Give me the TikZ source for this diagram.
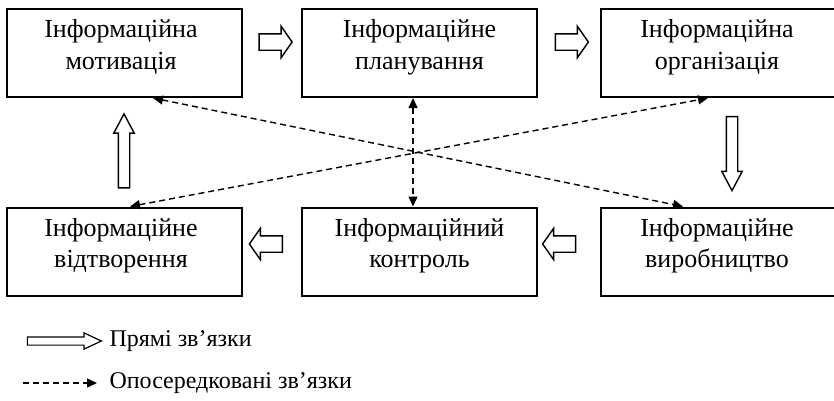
\documentclass[tikz,border=0pt]{standalone}
\usepackage{fontspec}
\setmainfont{Liberation Serif}
\usetikzlibrary{shapes,arrows.meta,positioning,calc}

\begin{document}
\begin{tikzpicture}[
    x=1pt, y=-1pt,
    font=\fontsize{26}{31.5}\selectfont,
    stage/.style={rectangle, draw, line width=2pt, minimum width=235pt, minimum height=88pt, inner sep=0pt},
    stagetext/.style={anchor=north, align=center, inner sep=0pt, yshift=-11.5pt},
    blockarrow/.style={single arrow, draw, line width=1.4pt, inner xsep=0pt, inner ysep=7.5pt,
        minimum height=33pt, single arrow head extend=7.5pt, single arrow tip angle=110, single arrow head indent=0pt},
    longarrow/.style={single arrow, draw, line width=1.4pt, inner xsep=0pt, inner ysep=5pt,
        minimum height=74pt, single arrow head extend=4.5pt, single arrow tip angle=56, single arrow head indent=0pt},
    legarrow/.style={single arrow, draw, line width=1.2pt, inner xsep=0pt, inner ysep=3.5pt,
        minimum height=74pt, single arrow head extend=4pt, single arrow tip angle=50, single arrow head indent=0pt},
    link/.style={line width=1.4pt, dash pattern=on 6pt off 4pt},
    >={Triangle[length=10pt,width=9pt]}
]
    \useasboundingbox (0,0) rectangle (834,400);

    % Stages (top row)
    \node[stage] (mot) at (124,53) {};
    \node[stagetext, xshift=-3pt] at (mot.north) {Інформаційна\\мотивація};
    \node[stage] (plan) at (419.5,53) {};
    \node[stagetext] at (plan.north) {Інформаційне\\планування};
    \node[stage, minimum width=242pt] (org) at (722,53) {};
    \node[stagetext, xshift=-5pt] at (org.north) {Інформаційна\\організація};

    % Stages (bottom row)
    \node[stage] (repr) at (124,251.5) {};
    \node[stagetext, xshift=-3pt] at (repr.north) {Інформаційне\\відтворення};
    \node[stage] (ctrl) at (419.5,251.5) {};
    \node[stagetext] at (ctrl.north) {Інформаційний\\контроль};
    \node[stage, minimum width=242pt] (prod) at (722,251.5) {};
    \node[stagetext, xshift=-5pt] at (prod.north) {Інформаційне\\виробництво};

    % Direct links
    \node[blockarrow] (a1) at ($(mot.east)!0.5!(plan.west)+(1,-11)$) {};
    \node[blockarrow] (a2) at ($(plan.east)!0.5!(org.west)+(0,-11)$) {};
    \node[longarrow, rotate=-90] (a3) at ($(org.south)!0.5!(prod.north)+(10,-4)$) {};
    \node[blockarrow, rotate=180] (a4) at ($(prod.west)!0.5!(ctrl.east)+(-7,-7.5)$) {};
    \node[blockarrow, rotate=180] (a5) at ($(ctrl.west)!0.5!(repr.east)+(-3,-7.5)$) {};
    \node[longarrow, rotate=90] (a6) at ($(repr.north)!0.5!(mot.south)+(0,4)$) {};

    % Indirect links
    \draw[link, <->] ([xshift=29pt]mot.south) -- ([xshift=-39pt]prod.north);
    \draw[link, <->] ([xshift=6pt]repr.north) -- ([xshift=-14pt]org.south);
    \draw[link, <->] ([xshift=-6.5pt]plan.south) -- ([xshift=-6.5pt]ctrl.north);

    % Legend
    \node[legarrow] (legdirect) at (60,341) {};
    \node[anchor=west, font=\fontsize{24}{28}\selectfont] (legdirecttext) at (106,341) {Прямі зв’язки};
    \coordinate (legfrom) at (23,383);
    \coordinate (legto) at (97,383);
    \draw[link, ->] (legfrom) -- (legto);
    \node[anchor=west, font=\fontsize{24}{28}\selectfont] (legindirecttext) at (106,383) {Опосередковані зв’язки};

\end{tikzpicture}
\end{document}
